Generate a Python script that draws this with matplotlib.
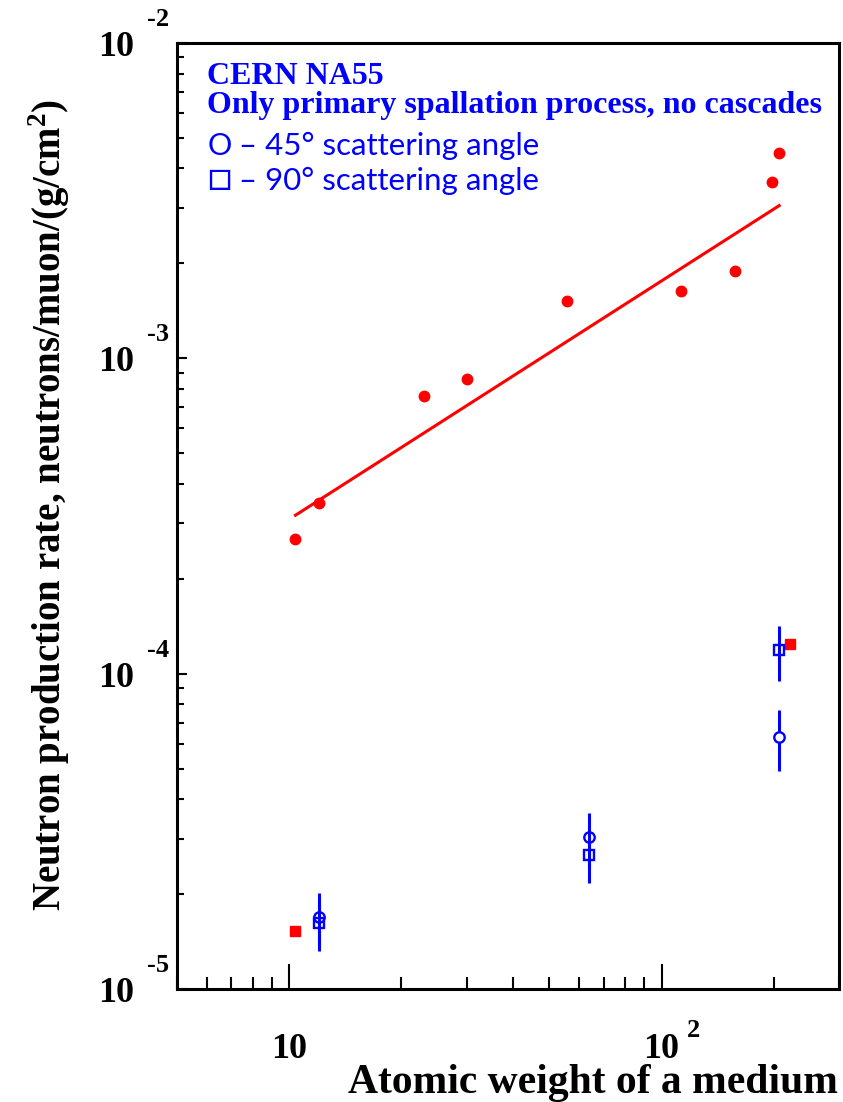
import matplotlib
matplotlib.use('Agg')
from matplotlib import pyplot as plt
from matplotlib import transforms
from matplotlib.ticker import LogLocator, NullFormatter

plt.rcParams['mathtext.fontset'] = 'custom'
plt.rcParams['mathtext.rm'] = 'Liberation Serif:bold'
plt.rcParams['mathtext.bf'] = 'Liberation Serif:bold'

# neutron yield, total (red dots) with power-law fit
red_a = [10.4, 12.0, 23.0, 30.0, 55.8, 112.5, 157.4, 197.6, 207.0]
red_y = [2.68e-4, 3.48e-4, 7.59e-4, 8.62e-4, 1.52e-3, 1.64e-3, 1.89e-3, 3.63e-3, 4.47e-3]
fit_a = [10.4, 207.0]
fit_y = [3.18e-4, 3.05e-3]
# red squares
sq_a = [10.4, 220.8]
sq_y = [1.53e-5, 1.24e-4]
# CERN NA55, primary spallation only
na55_a = [12.0, 63.8, 206.6]
deg45_y = [1.69e-5, 3.04e-5, 6.30e-5]
deg45_err = [0.33e-5, 0.58e-5, 1.37e-5]
deg90_y = [1.62e-5, 2.66e-5, 1.186e-4]
deg90_err = [0.30e-5, 0.49e-5, 0.235e-4]

xticks = [10, 100]
xtick_exp = ['', '2']
yticks = [1e-2, 1e-3, 1e-4, 1e-5]
ytick_exp = ['-2', '-3', '-4', '-5']

legend_sym = ['O', '\u25a1']
legend_txt = ['\u2013 45\u00b0 scattering angle', '\u2013 90\u00b0 scattering angle']

RED = '#ff0000'
BLUE = '#0000ff'
serif = 'Liberation Serif'
sans = ['Lato', 'DejaVu Sans']

fig = plt.figure(figsize=(8.43, 11.02), dpi=100)
ax = fig.add_axes([0.210, 0.1025, 0.7855, 0.8585])
ax.set_xscale('log')
ax.set_yscale('log')
ax.set_xlim(5, 300)
ax.set_ylim(1e-5, 1e-2)

ax.plot(fit_a, fit_y, color=RED, lw=2.2)
ax.plot(red_a, red_y, 'o', color=RED, ms=7.5, mec=RED)
ax.plot(sq_a, sq_y, 's', color=RED, ms=7, mec=RED)
ax.errorbar(na55_a, deg45_y, yerr=deg45_err, fmt='o', mfc='white', mec=BLUE,
            ecolor=BLUE, ms=7.5, mew=1.7, elinewidth=2.2, capsize=0, zorder=4)
ax.errorbar(na55_a, deg90_y, yerr=deg90_err, fmt='s', mfc='none', mec=BLUE,
            ecolor=BLUE, ms=7.5, mew=1.7, elinewidth=2.2, capsize=0, zorder=5)

for s in ax.spines.values():
    s.set_linewidth(2.2)

ax.xaxis.set_major_locator(LogLocator(base=10, numticks=10))
ax.xaxis.set_minor_locator(LogLocator(base=10, subs=range(2, 10), numticks=20))
ax.yaxis.set_major_locator(LogLocator(base=10, numticks=10))
ax.yaxis.set_minor_locator(LogLocator(base=10, subs=range(2, 10), numticks=20))
ax.xaxis.set_major_formatter(NullFormatter())
ax.xaxis.set_minor_formatter(NullFormatter())
ax.yaxis.set_major_formatter(NullFormatter())
ax.yaxis.set_minor_formatter(NullFormatter())
ax.tick_params(axis='x', which='major', direction='in', length=18, width=1.5, top=False)
ax.tick_params(axis='x', which='minor', direction='in', length=9, width=1.5, top=False)
ax.tick_params(axis='y', which='major', direction='in', length=7, width=1.5, right=False)
ax.tick_params(axis='y', which='minor', direction='in', length=5, width=1.5, right=False)

# ROOT style tick labels
for v, e in zip(yticks, ytick_exp):
    tr = transforms.offset_copy(ax.get_yaxis_transform(), fig, x=-43, y=-13, units='dots')
    ax.text(0, v, '10', transform=tr, ha='right', va='baseline', family=serif,
            weight='bold', fontsize=26, clip_on=False)
    tr = transforms.offset_copy(ax.get_yaxis_transform(), fig, x=-30, y=17, units='dots')
    ax.text(0, v, e, transform=tr, ha='left', va='baseline', family=serif,
            weight='bold', fontsize=19, clip_on=False)

for v, e in zip(xticks, xtick_exp):
    tr = transforms.offset_copy(ax.get_xaxis_transform(), fig, x=0, y=-69, units='dots')
    ax.text(v, 0, '10', transform=tr, ha='center', va='baseline', family=serif,
            weight='bold', fontsize=26, clip_on=False)
    tr = transforms.offset_copy(ax.get_xaxis_transform(), fig, x=25, y=-48, units='dots')
    ax.text(v, 0, e, transform=tr, ha='left', va='baseline', family=serif,
            weight='bold', fontsize=19, clip_on=False)

fig.text(0.994, 0.0082, 'Atomic weight of a medium', ha='right', va='baseline',
         family=serif, weight='bold', fontsize=30)
fig.text(0.058, 0.542, 'Neutron production rate, neutrons/muon/(g/cm$^2$)',
         rotation=90, ha='center', va='center', family=serif, weight='bold', fontsize=28)

ax.text(0.046, 0.957, 'CERN NA55', transform=ax.transAxes, color=BLUE, family=serif,
        weight='bold', fontsize=23, va='baseline')
ax.text(0.046, 0.926, 'Only primary spallation process, no cascades', transform=ax.transAxes,
        color=BLUE, family=serif, weight='bold', fontsize=23, va='baseline')
for i, (sym, txt) in enumerate(zip(legend_sym, legend_txt)):
    yb = 0.882 - i * 0.037
    ax.text(0.046, yb, sym, transform=ax.transAxes, color=BLUE, family=sans,
            fontsize=22 if i == 0 else 29, va='baseline')
    tr = transforms.offset_copy(ax.transAxes, fig, x=32, y=0, units='dots')
    ax.text(0.046, yb, txt, transform=tr, color=BLUE, family=sans,
            fontsize=22.5, va='baseline')

fig.savefig('out.png', dpi=100)
